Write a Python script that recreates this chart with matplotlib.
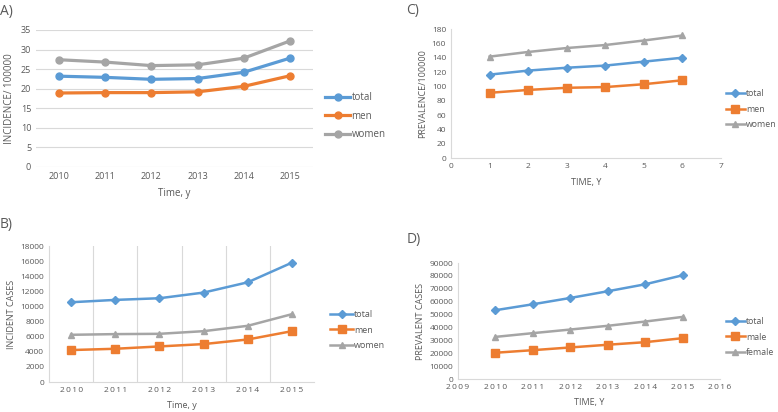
import matplotlib.pyplot as plt

plt.rcParams['font.family'] = ['Open Sans', 'DejaVu Sans']

BLUE = '#5B9BD5'
ORANGE = '#ED7D31'
GRAY = '#A5A5A5'
TXT = '#595959'
GRID = '#D9D9D9'

# A) incidence per 100000
years = [2010, 2011, 2012, 2013, 2014, 2015]
inc_total = [23.2, 22.9, 22.4, 22.6, 24.2, 27.8]
inc_men = [18.9, 19.0, 19.0, 19.2, 20.6, 23.3]
inc_women = [27.4, 26.8, 25.9, 26.1, 27.8, 32.2]

# B) incident cases
cases_total = [10560, 10870, 11090, 11840, 13200, 15800]
cases_men = [4230, 4400, 4710, 5020, 5630, 6730]
cases_women = [6250, 6340, 6380, 6730, 7440, 8980]

# C) prevalence per 100000 (time index 1..6)
time_idx = [1, 2, 3, 4, 5, 6]
prev_total = [116.4, 122, 126, 129, 134.5, 140]
prev_men = [91, 95, 98, 99, 103, 108.5]
prev_women = [141.5, 148, 153.5, 157.7, 164, 171]

# D) prevalent cases
prevc_total = [53400, 58000, 62900, 68100, 73500, 80500]
prevc_male = [20400, 22400, 24500, 26600, 28600, 31700]
prevc_female = [32700, 35600, 38400, 41300, 44600, 48200]

fig = plt.figure(figsize=(7.78, 4.12), dpi=100)


def style(ax, fs=6.5):
    ax.tick_params(colors=TXT, labelsize=fs, length=0)
    for s in ax.spines.values():
        s.set_visible(False)


def legend(ax, x, y, fs=7, hl=2.6):
    leg = ax.legend(loc='center left', bbox_to_anchor=(x, y),
                    bbox_transform=fig.transFigure, frameon=False,
                    fontsize=fs, handlelength=hl, handletextpad=0.1,
                    labelspacing=0.75, borderaxespad=0, borderpad=0)
    for t in leg.get_texts():
        t.set_color(TXT)


def spaced(y):
    return '\u2009'.join(str(y))


# ---- A ----
axA = fig.add_axes([0.0463, 0.5947, 0.356, 0.3325])
xa = range(len(years))
axA.plot(xa, inc_total, color=BLUE, lw=2.3, marker='o', ms=5, label='total')
axA.plot(xa, inc_men, color=ORANGE, lw=2.3, marker='o', ms=5, label='men')
axA.plot(xa, inc_women, color=GRAY, lw=2.3, marker='o', ms=5, label='women')
axA.set_xlim(-0.5, 5.5)
axA.set_ylim(0, 35)
axA.set_yticks(range(0, 36, 5))
axA.set_xticks(list(xa))
axA.set_xticklabels([str(y) for y in years])
axA.yaxis.grid(True, color=GRID, lw=0.8)
axA.set_axisbelow(True)
style(axA)
axA.set_ylabel('INCIDENCE/ 100000', color=TXT, fontsize=7, labelpad=4)
axA.set_xlabel('Time, y', color=TXT, fontsize=7, labelpad=5)
legend(axA, 0.418, 0.718)
fig.text(0.0, 0.972, 'A)', fontsize=10, color=TXT, va='center')

# ---- C ----
axC = fig.add_axes([0.5797, 0.6165, 0.347, 0.313])
axC.plot(time_idx, prev_total, color=BLUE, lw=1.8, marker='D', ms=4, label='total')
axC.plot(time_idx, prev_men, color=ORANGE, lw=1.8, marker='s', ms=5.5, label='men')
axC.plot(time_idx, prev_women, color=GRAY, lw=1.8, marker='^', ms=5, label='women')
axC.set_xlim(0, 7)
axC.set_ylim(0, 180)
axC.set_yticks(range(0, 181, 20))
axC.set_xticks(range(0, 8))
style(axC, fs=6)
axC.spines['left'].set_visible(True)
axC.spines['bottom'].set_visible(True)
axC.spines['left'].set_color(GRID)
axC.spines['bottom'].set_color(GRID)
axC.set_ylabel('PREVALENCE/100000', color=TXT, fontsize=6.5, labelpad=3)
axC.set_xlabel('TIME, Y', color=TXT, fontsize=6.5, labelpad=6)
legend(axC, 0.933, 0.735, fs=6.3, hl=2.2)
fig.text(0.522, 0.975, 'C)', fontsize=10, color=TXT, va='center')

# ---- B ----
axB = fig.add_axes([0.063, 0.0728, 0.3406, 0.330])
xb = range(len(years))
axB.plot(xb, cases_total, color=BLUE, lw=1.8, marker='D', ms=4, label='total')
axB.plot(xb, cases_men, color=ORANGE, lw=1.8, marker='s', ms=5.5, label='men')
axB.plot(xb, cases_women, color=GRAY, lw=1.8, marker='^', ms=5, label='women')
axB.set_xlim(-0.5, 5.5)
axB.set_ylim(0, 18000)
axB.set_yticks(range(0, 18001, 2000))
axB.set_xticks(list(xb))
axB.set_xticklabels([spaced(y) for y in years])
for b in [0.5, 1.5, 2.5, 3.5, 4.5]:
    axB.axvline(b, color=GRID, lw=0.8, zorder=0)
style(axB, fs=6)
axB.spines['bottom'].set_visible(True)
axB.spines['bottom'].set_color(GRID)
axB.spines['left'].set_visible(True)
axB.spines['left'].set_color(GRID)
axB.set_ylabel('INCIDENT CASES', color=TXT, fontsize=6.5, labelpad=3)
axB.set_xlabel('Time, y', color=TXT, fontsize=6.5, labelpad=5)
legend(axB, 0.424, 0.199, fs=6.5)
fig.text(0.0, 0.455, 'B)', fontsize=10, color=TXT, va='center')

# ---- D ----
axD = fig.add_axes([0.5887, 0.080, 0.3368, 0.2816])
axD.plot(years, prevc_total, color=BLUE, lw=1.8, marker='D', ms=4, label='total')
axD.plot(years, prevc_male, color=ORANGE, lw=1.8, marker='s', ms=5.5, label='male')
axD.plot(years, prevc_female, color=GRAY, lw=1.8, marker='^', ms=5, label='female')
axD.set_xlim(2009, 2016)
axD.set_ylim(0, 90000)
axD.set_yticks(range(0, 90001, 10000))
axD.set_xticks(range(2009, 2017))
axD.set_xticklabels([spaced(y) for y in range(2009, 2017)])
style(axD, fs=6)
axD.spines['left'].set_visible(True)
axD.spines['bottom'].set_visible(True)
axD.spines['left'].set_color(GRID)
axD.spines['bottom'].set_color(GRID)
axD.set_ylabel('PREVALENT CASES', color=TXT, fontsize=6.5, labelpad=3)
axD.set_xlabel('TIME, Y', color=TXT, fontsize=6.5, labelpad=5)
legend(axD, 0.933, 0.182, fs=6.3, hl=2.2)
fig.text(0.523, 0.418, 'D)', fontsize=10, color=TXT, va='center')

fig.savefig('out.png', dpi=100)
